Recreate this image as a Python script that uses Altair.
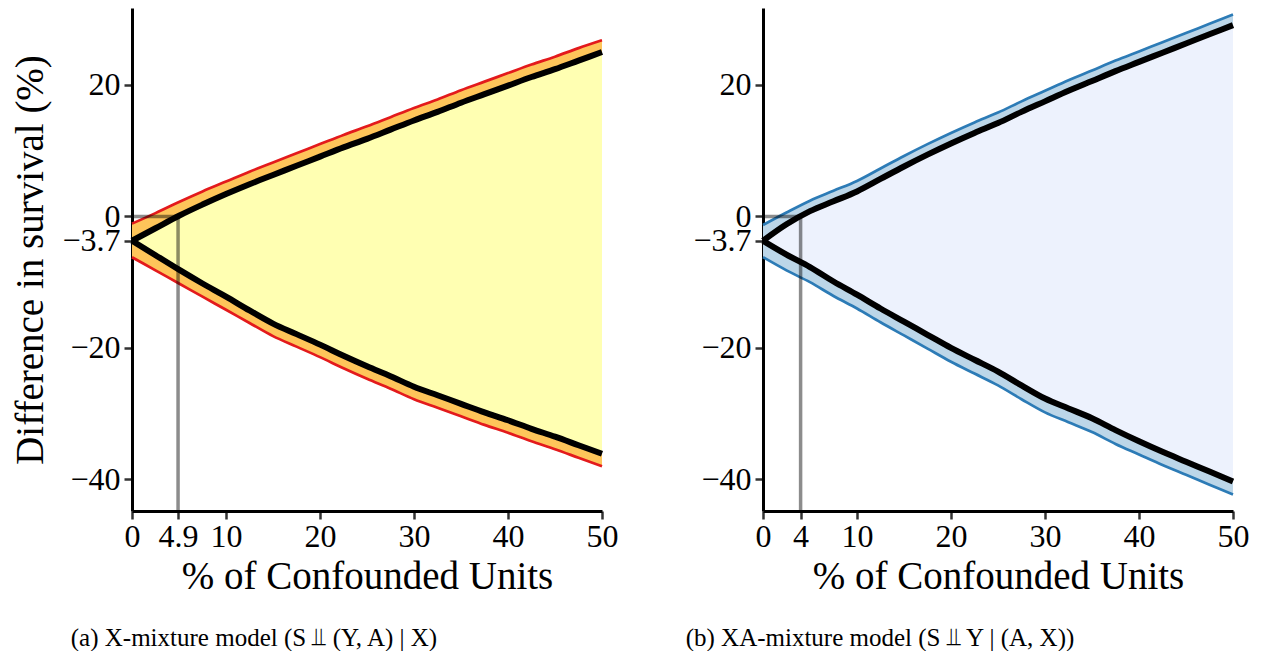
import altair as alt
import pandas as pd

# ---------------- data ----------------
x_pct = [0, 2.5, 5, 7.5, 10, 12.5, 15, 17.5, 20, 22.5, 25, 27.5, 30,
         32.5, 35, 37.5, 40, 42.5, 45, 47.5, 50]

# Panel (a): X-mixture model
a_hi_black = [-3.7, -1.8, 0.1, 1.8, 3.4, 4.9, 6.3, 7.7, 9.1, 10.5, 11.8, 13.2, 14.6,
              15.9, 17.3, 18.6, 19.9, 21.2, 22.4, 23.7, 25.0]
a_hi_edge = [-1.1, 0.5, 2.2, 3.8, 5.3, 6.8, 8.2, 9.6, 11.0, 12.4, 13.7, 15.1, 16.5,
             17.8, 19.2, 20.5, 21.8, 23.1, 24.3, 25.6, 26.8]
a_lo_black = [-3.7, -5.9, -8.1, -10.2, -12.2, -14.3, -16.3, -17.9, -19.5, -21.2, -22.8,
              -24.3, -25.9, -27.2, -28.5, -29.8, -31.0, -32.3, -33.5, -34.8, -36.1]
a_lo_edge = [-6.2, -8.2, -10.2, -12.2, -14.2, -16.2, -18.2, -19.8, -21.4, -23.1, -24.7,
             -26.2, -27.8, -29.1, -30.4, -31.7, -32.9, -34.2, -35.4, -36.7, -38.0]

# Panel (b): XA-mixture model
b_hi_black = [-3.7, -1.2, 0.8, 2.3, 3.8, 5.7, 7.6, 9.4, 11.1, 12.7, 14.2, 15.9, 17.5,
              19.1, 20.6, 22.1, 23.5, 24.9, 26.3, 27.7, 29.1]
b_hi_edge = [-1.3, 0.6, 2.4, 3.9, 5.4, 7.3, 9.2, 11.0, 12.7, 14.3, 15.8, 17.5, 19.1,
             20.7, 22.2, 23.7, 25.1, 26.5, 27.9, 29.3, 30.7]
b_lo_black = [-3.7, -5.8, -7.7, -9.9, -11.9, -14.0, -16.0, -18.0, -20.0, -21.8, -23.6,
              -25.7, -27.7, -29.2, -30.7, -32.5, -34.2, -35.8, -37.3, -38.8, -40.3]
b_lo_edge = [-6.2, -8.2, -10.0, -12.1, -14.0, -16.1, -18.1, -20.1, -22.1, -23.9, -25.7,
             -27.8, -29.8, -31.3, -32.8, -34.6, -36.2, -37.8, -39.3, -40.8, -42.3]

estimate = -3.7
a_cross = 4.9
b_cross = 4
y_ticks = [-40, -20, -3.7, 0, 20]
a_x_ticks = [0, 4.9, 10, 20, 30, 40, 50]
b_x_ticks = [0, 4, 10, 20, 30, 40, 50]

x_title = "% of Confounded Units"
y_title = "Difference in survival (%)"
a_caption = "(a) X-mixture model (S \u2AEB (Y, A) | X)"
b_caption = "(b) XA-mixture model (S \u2AEB Y | (A, X))"

Y_MIN, Y_MAX = -44.8, 31.7
FONT = "Liberation Serif"


def panel(hi_black, hi_edge, lo_black, lo_edge, cross, x_ticks, caption,
          inner, band, edge, show_ytitle, cap_x):
    df = pd.DataFrame({"x": x_pct, "hb": hi_black, "he": hi_edge,
                       "lb": lo_black, "le": lo_edge})
    xs = alt.Scale(domain=[0, 50], nice=False, zero=False)
    ys = alt.Scale(domain=[Y_MIN, Y_MAX], nice=False, zero=False)
    xaxis = alt.Axis(values=x_ticks, format=".1~f", title=x_title,
                     labelOverlap=False, labelFlush=False, labelBound=False,
                     titlePadding=5)
    yaxis = alt.Axis(values=y_ticks, format=".1~f",
                     title=y_title if show_ytitle else None,
                     labelOverlap=False, labelFlush=False, labelBound=False,
                     titlePadding=11)

    def X(f):
        return alt.X(f, type="quantitative", scale=xs, axis=xaxis)

    def Y(f):
        return alt.Y(f, type="quantitative", scale=ys, axis=yaxis)

    interp = "monotone"
    base = alt.Chart(df)
    fill_mid = base.mark_area(color=inner, opacity=1, interpolate=interp).encode(
        x=X("x"), y=Y("lb"), y2="hb")
    band_hi = base.mark_area(color=band, opacity=1, interpolate=interp).encode(
        x=X("x"), y=Y("hb"), y2="he")
    band_lo = base.mark_area(color=band, opacity=1, interpolate=interp).encode(
        x=X("x"), y=Y("le"), y2="lb")
    edge_hi = base.mark_line(color=edge, strokeWidth=2.7, interpolate=interp).encode(
        x=X("x"), y=Y("he"))
    edge_lo = base.mark_line(color=edge, strokeWidth=2.7, interpolate=interp).encode(
        x=X("x"), y=Y("le"))
    blk_hi = base.mark_line(color="black", strokeWidth=6, interpolate=interp).encode(
        x=X("x"), y=Y("hb"))
    blk_lo = base.mark_line(color="black", strokeWidth=6, interpolate=interp).encode(
        x=X("x"), y=Y("lb"))

    ref_h = alt.Chart(pd.DataFrame({"x": [0], "x2": [cross], "y": [0]})).mark_rule(
        color="black", opacity=0.45, strokeWidth=3.5
    ).encode(x=X("x"), x2="x2", y=Y("y"))
    ref_v = alt.Chart(pd.DataFrame({"x": [cross], "y": [0], "y2": [Y_MIN]})).mark_rule(
        color="black", opacity=0.45, strokeWidth=3.5
    ).encode(x=X("x"), y=Y("y"), y2="y2")

    cap = alt.Chart(pd.DataFrame({"c": [caption]})).mark_text(
        font=FONT, fontSize=25, align="center", baseline="middle", color="black"
    ).encode(x=alt.value(cap_x), y=alt.value(630), text="c:N")

    return alt.layer(fill_mid, band_hi, band_lo, edge_hi, edge_lo, blk_hi, blk_lo,
                     ref_h, ref_v, cap).properties(width=470, height=503)


left = panel(a_hi_black, a_hi_edge, a_lo_black, a_lo_edge, a_cross, a_x_ticks,
             a_caption, "#ffffb2", "#fec55a", "#e31a1c", True, 122)
right = panel(b_hi_black, b_hi_edge, b_lo_black, b_lo_edge, b_cross, b_x_ticks,
              b_caption, "#edf2fd", "#bcd6e8", "#2c7bb6", False, 117)

chart = alt.hconcat(left, right, spacing=161, bounds="flush").properties(
    padding={"left": 3, "top": 0, "right": 0, "bottom": 0}
).configure_view(stroke=None).configure_axis(
    grid=False,
    domainColor="black", domainWidth=3,
    tickColor="#333333", tickWidth=2.5, tickSize=8,
    labelFont=FONT, labelFontSize=32, labelColor="black", labelPadding=4,
    titleFont=FONT, titleFontSize=39, titleColor="black", titleFontWeight="normal",
).configure_axisX(labelPadding=2)

chart.save("out.html", embed_options={"renderer": "svg", "actions": False})
